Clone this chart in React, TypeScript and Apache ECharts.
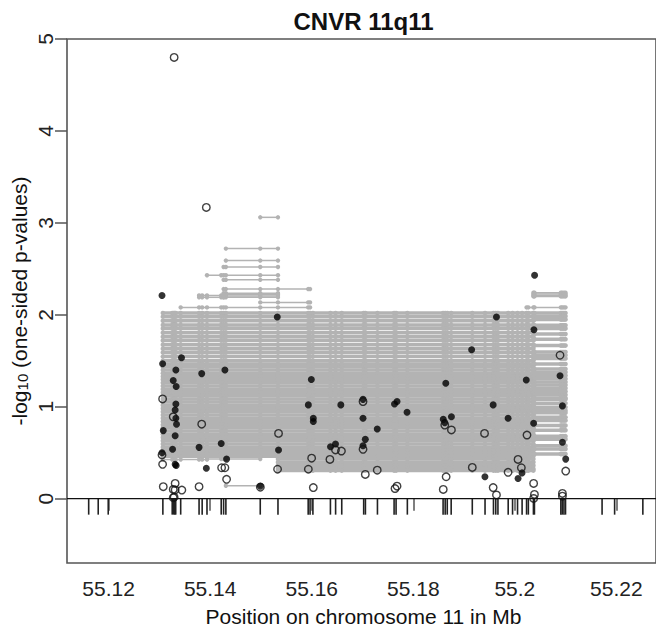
import { useEffect, useRef } from 'react';
import * as echarts from 'echarts';

const FONT = '"Liberation Sans", Arial, Helvetica, sans-serif';
const GRAY = '#b3b3b3';

const xMin = 55.1118;
const xMax = 55.2278;
const yMin = -0.7;
const yMax = 5;

const xTicks = [55.12, 55.14, 55.16, 55.18, 55.2, 55.22];
const yTicks = [0, 1, 2, 3, 4, 5];

// SNP positions (rug), Mb
const snpPos = [
  55.11607, 55.11795, 55.11992, 55.13068, 55.13252, 55.13282, 55.13301, 55.13321, 55.13419,
  55.13781, 55.13842, 55.13937, 55.14217, 55.14264, 55.14309, 55.14986, 55.15335, 55.1593,
  55.15967, 55.16023, 55.16368, 55.1647, 55.16591, 55.17023, 55.17057, 55.17294, 55.17622,
  55.17661, 55.17883, 55.18587, 55.18628, 55.18669, 55.18746, 55.19162, 55.19413, 55.19579,
  55.19624, 55.19667, 55.19869, 55.19955, 55.20053, 55.20143, 55.20231, 55.20266, 55.20366,
  55.20386, 55.20906, 55.20933, 55.20967, 55.20998, 55.21718, 55.21965, 55.22521,
];

// dense region segments (many overlapping CNV-window tests)
const spanA = [55.13068, 55.20366];
const levelsA = [
  2.02, 1.98, 1.935, 1.89, 1.85, 1.805, 1.76, 1.72, 1.675, 1.63, 1.59, 1.545, 1.5, 1.465,
  1.435, 1.4, 1.365, 1.33, 1.295, 1.26, 1.225, 1.19, 1.155, 1.12, 1.085, 1.05, 1.015, 0.98,
  0.945, 0.91, 0.875, 0.84, 0.805, 0.77, 0.735, 0.7, 0.665, 0.63, 0.595, 0.56, 0.525, 0.49, 0.46,
];
const spanA2 = [55.15335, 55.20366];
const levelsA2 = [0.43, 0.395, 0.36, 0.325, 0.305];
const spanB = [55.20366, 55.20998];
const levelsB = [
  2.02, 1.985, 1.95, 1.885, 1.85, 1.79, 1.735, 1.665, 1.595, 1.56, 1.525, 1.465, 1.41, 1.375,
  1.34, 1.305, 1.27, 1.235, 1.2, 1.165, 1.13, 1.095, 1.08, 1.037, 0.995, 0.96, 0.935, 0.885,
  0.85, 0.795, 0.745, 0.68, 0.645, 0.575, 0.54, 0.485,
];

// isolated segments
const sparseStart = [
  55.14986, 55.14309, 55.14309, 55.14264, 55.13937, 55.14264, 55.14264, 55.14264, 55.14264,
  55.14264, 55.14264, 55.13781, 55.13781, 55.14986, 55.13419, 55.20366, 55.20366, 55.20366,
  55.20366, 55.20231, 55.14309, 55.13937, 55.14309, 55.13068,
];
const sparseEnd = [
  55.15335, 55.15335, 55.15335, 55.15335, 55.15335, 55.15335, 55.15967, 55.15335, 55.15335,
  55.15335, 55.15335, 55.14264, 55.14264, 55.15967, 55.15967, 55.20998, 55.20998, 55.20998,
  55.20998, 55.20998, 55.14986, 55.14986, 55.14986, 55.13937,
];
const sparseLevel = [
  3.06, 2.72, 2.59, 2.52, 2.43, 2.38, 2.28, 2.235, 2.22, 2.205, 2.19, 2.21, 2.19, 2.135, 2.08,
  2.24, 2.225, 2.21, 2.2, 2.08, 0.14, 0.43, 0.51, 0.425,
];

// SNP association p-values (filled / open symbols)
const filledX = [
  55.13051, 55.15321, 55.13063, 55.13435, 55.13324, 55.13833, 55.1429, 55.13272, 55.1333, 55.15992,
  55.20389, 55.19638, 55.20376, 55.19149, 55.1864, 55.20225, 55.2089, 55.1701, 55.13324, 55.1331,
  55.13324, 55.13337, 55.13076, 55.1331, 55.13259, 55.13051, 55.13781, 55.14217, 55.1331, 55.1333,
  55.13924, 55.14323, 55.14988, 55.15346, 55.15933, 55.16031, 55.16031, 55.16573, 55.1701, 55.1729,
  55.17055, 55.1701, 55.1637, 55.16468, 55.1763, 55.1768, 55.17877, 55.19573, 55.20937, 55.18751,
  55.1859, 55.1862, 55.19867, 55.2037, 55.20937, 55.21002, 55.20141, 55.20063, 55.19411,
];
const filledY = [
  2.21, 1.976, 1.467, 1.532, 1.4, 1.36, 1.4, 1.285, 1.22, 1.296,
  2.43, 1.976, 1.838, 1.62, 1.256, 1.29, 1.336, 1.08, 1.03, 0.965,
  0.875, 0.81, 0.74, 0.685, 0.537, 0.5, 0.558, 0.6, 0.373, 0.36,
  0.33, 0.43, 0.136, 0.53, 1.02, 0.875, 0.84, 1.02, 0.875, 0.758,
  0.645, 0.576, 0.565, 0.594, 1.03, 1.056, 0.94, 1.02, 1.009, 0.89,
  0.864, 0.827, 0.875, 0.82, 0.613, 0.43, 0.28, 0.22, 0.238,
];
const openX = [
  55.1329, 55.13924, 55.13063, 55.2089, 55.13272, 55.13833, 55.13051, 55.13063, 55.14225, 55.1429,
  55.14323, 55.13076, 55.1331, 55.13272, 55.1331, 55.13442, 55.13781, 55.1329, 55.13272, 55.14988,
  55.15346, 55.15327, 55.15998, 55.15933, 55.16031, 55.1701, 55.1701, 55.16468, 55.16585, 55.16358,
  55.17055, 55.1729, 55.1764, 55.1768, 55.1862, 55.18751, 55.19403, 55.20239, 55.21002, 55.20063,
  55.20128, 55.19867, 55.19162, 55.18647, 55.1859, 55.19573, 55.19638, 55.2037, 55.20386, 55.2037,
  55.20937, 55.20937,
];
const openY = [
  4.8, 3.168, 1.085, 1.56, 0.89, 0.81, 0.475, 0.373, 0.336, 0.336,
  0.21, 0.13, 0.166, 0.1, 0.095, 0.093, 0.13, 0.016, 0.01, 0.125,
  0.71, 0.32, 0.44, 0.32, 0.12, 1.056, 0.536, 0.53, 0.518, 0.427,
  0.264, 0.31, 0.11, 0.136, 0.8, 0.747, 0.71, 0.692, 0.3, 0.427,
  0.336, 0.286, 0.34, 0.238, 0.1, 0.12, 0.04, 0.166, 0.046, 0.002,
  0.057, 0.027,
];

function segRenderer(lineWidth: number, r: number) {
  return (_params: any, api: any) => {
    const x1 = api.value(0);
    const x2 = api.value(1);
    const y = api.value(2);
    const p1 = api.coord([x1, y]);
    const p2 = api.coord([x2, y]);
    const children: any[] = [
      {
        type: 'line',
        shape: { x1: p1[0], y1: p1[1], x2: p2[0], y2: p2[1] },
        style: { stroke: GRAY, lineWidth },
      },
    ];
    for (const s of snpPos) {
      if (s >= x1 - 1e-7 && s <= x2 + 1e-7) {
        const c = api.coord([s, y]);
        children.push({ type: 'circle', shape: { cx: c[0], cy: c[1], r }, style: { fill: GRAY } });
      }
    }
    return { type: 'group', children };
  };
}

export default function App() {
  const ref = useRef<HTMLDivElement>(null);
  useEffect(() => {
    const chart = echarts.init(ref.current!, null, { renderer: 'svg' });

    const dense: number[][] = [];
    levelsA.forEach((y) => dense.push([spanA[0], spanA[1], y]));
    levelsA2.forEach((y) => dense.push([spanA2[0], spanA2[1], y]));
    levelsB.forEach((y) => dense.push([spanB[0], spanB[1], y]));
    const sparse = sparseStart.map((s, i) => [s, sparseEnd[i], sparseLevel[i]]);
    const filled = filledX.map((x, i) => [x, filledY[i]]);
    const open = openX.map((x, i) => [x, openY[i]]);
    const rug = snpPos.map((x) => [x, 0]);

    const fmt = (v: number) => String(Number(v.toFixed(2)));

    chart.setOption({
      animation: false,
      grid: {
        left: 67,
        right: -4,
        top: 39,
        bottom: 65,
        show: true,
        borderColor: '#555',
        borderWidth: 1.6,
        backgroundColor: 'transparent',
      },
      xAxis: {
        type: 'value',
        min: xMin,
        max: xMax,
        axisLine: { show: false },
        splitLine: { show: false },
        axisTick: {
          show: true,
          customValues: xTicks,
          length: 12,
          lineStyle: { color: '#555', width: 1.5 },
        },
        axisLabel: {
          customValues: xTicks,
          formatter: (v: number) => fmt(v),
          fontSize: 21,
          fontFamily: FONT,
          color: '#222',
          margin: 15,
        },
      },
      yAxis: {
        type: 'value',
        min: yMin,
        max: yMax,
        axisLine: { show: false },
        splitLine: { show: false },
        axisTick: {
          show: true,
          customValues: yTicks,
          length: 12,
          lineStyle: { color: '#555', width: 1.5 },
        },
        axisLabel: {
          customValues: yTicks,
          formatter: (v: number) => String(Math.round(v)),
          rotate: 90,
          fontSize: 21,
          fontFamily: FONT,
          color: '#222',
          margin: 11,
        },
      },
      graphic: [
        {
          type: 'text',
          x: 363.5,
          y: 21,
          style: {
            text: 'CNVR 11q11',
            fontSize: 24,
            fontWeight: 'bold',
            fontFamily: FONT,
            fill: '#111',
            align: 'center',
            verticalAlign: 'middle',
          },
        },
        {
          type: 'text',
          x: 363.5,
          y: 616,
          style: {
            text: 'Position on chromosome 11 in Mb',
            fontSize: 21,
            fontFamily: FONT,
            fill: '#111',
            align: 'center',
            verticalAlign: 'middle',
          },
        },
        {
          type: 'text',
          x: 19,
          y: 301,
          rotation: Math.PI / 2,
          style: {
            text: '-log{sub|10} (one-sided p-values)',
            fontSize: 21,
            fontFamily: FONT,
            fill: '#111',
            align: 'center',
            verticalAlign: 'middle',
            rich: {
              sub: { fontSize: 15, fontFamily: FONT, fill: '#111', verticalAlign: 'bottom', lineHeight: 15 },
            },
          },
        },
      ],
      series: [
        {
          type: 'custom',
          silent: true,
          clip: true,
          encode: { x: [0, 1], y: 2 },
          data: dense,
          renderItem: segRenderer(3.5, 2.3),
        },
        {
          type: 'custom',
          silent: true,
          clip: true,
          encode: { x: [0, 1], y: 2 },
          data: sparse,
          renderItem: segRenderer(1.5, 2.2),
        },
        {
          type: 'line',
          silent: true,
          symbol: 'none',
          data: [[xMin, 0], [xMax, 0]],
          lineStyle: { color: '#111', width: 1.4 },
        },
        {
          type: 'custom',
          silent: true,
          encode: { x: 0, y: 1 },
          data: rug,
          renderItem: (_p: any, api: any) => {
            const c = api.coord([api.value(0), api.value(1)]);
            return {
              type: 'line',
              shape: { x1: c[0], y1: c[1], x2: c[0], y2: c[1] + 16 },
              style: { stroke: '#222', lineWidth: 1.6 },
            };
          },
        },
        {
          type: 'scatter',
          silent: true,
          symbol: 'circle',
          symbolSize: 7,
          data: filled,
          itemStyle: { color: '#000' },
        },
        {
          type: 'scatter',
          silent: true,
          symbol: 'circle',
          symbolSize: 7.5,
          data: open,
          itemStyle: { color: 'rgba(0,0,0,0)', borderColor: '#111', borderWidth: 1.4 },
        },
      ],
    });
    return () => chart.dispose();
  }, []);
  return <div ref={ref} style={{ position: 'absolute', left: 0, top: 0, width: 656, height: 628 }} />;
}
